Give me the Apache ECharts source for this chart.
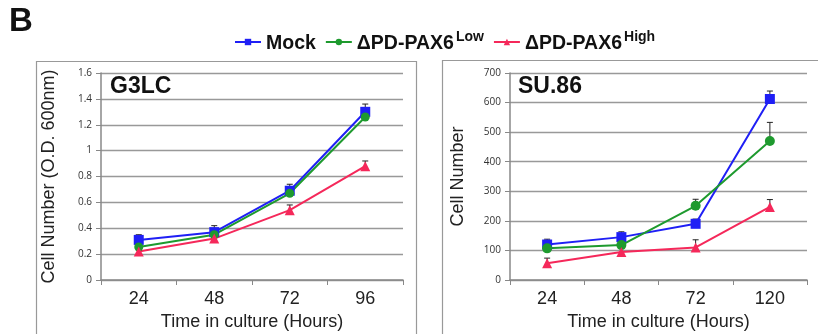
<!DOCTYPE html>
<html><head><meta charset="utf-8">
<script src="https://cdn.jsdelivr.net/npm/echarts@6/dist/echarts.min.js"></script>
<style>html,body{margin:0;padding:0;background:#fff}#c{width:818px;height:334px}</style>
</head><body><div id="c"></div>
<script>
// G3LC panel
const catsA = ['24', '48', '72', '96'];
const mockA = [0.31, 0.37, 0.69, 1.30];
const lowA = [0.255, 0.35, 0.67, 1.26];
const highA = [0.22, 0.32, 0.54, 0.88];
const mockErrA = [0.04, 0.05, 0.05, 0.06];
const lowErrA = [0, 0, 0, 0];
const highErrA = [0, 0, 0.04, 0.04];
// SU.86 panel
const catsB = ['24', '48', '72', '120'];
const mockB = [120, 145, 190, 612];
const lowB = [107, 118, 251, 470];
const highB = [57, 95, 110, 247];
const mockErrB = [18, 18, 16, 27];
const lowErrB = [0, 0, 22, 63];
const highErrB = [17, 0, 26, 25];

const FONT = '"Liberation Sans", Arial, Helvetica, sans-serif';
const C_MOCK = '#1f1ff5', C_LOW = '#1e9a2e', C_HIGH = '#f5285a';
const N_MOCK = 'Mock', N_LOW = 'ΔPD-PAX6 Low', N_HIGH = 'ΔPD-PAX6 High';

function lineSeries(name, data, color, symbol, size, idx) {
  return {
    type: 'line', name, data, xAxisIndex: idx, yAxisIndex: idx,
    symbol, symbolSize: size, lineStyle: { color, width: 2 },
    itemStyle: { color }, z: 3, animation: false
  };
}
function errSeries(vals, errs, idx) {
  const d = vals.map((v, i) => [i, v, errs[i]]);
  return {
    type: 'custom', xAxisIndex: idx, yAxisIndex: idx, data: d, z: 2, animation: false,
    silent: true,
    renderItem(params, api) {
      const e = api.value(2);
      if (!e) return null;
      const p0 = api.coord([api.value(0), api.value(1)]);
      const p1 = api.coord([api.value(0), api.value(1) + e]);
      const st = { stroke: '#222', lineWidth: 1 };
      return {
        type: 'group', children: [
          { type: 'line', shape: { x1: p0[0], y1: p0[1], x2: p1[0], y2: p1[1] }, style: st },
          { type: 'line', shape: { x1: p1[0] - 3, y1: p1[1], x2: p1[0] + 3, y2: p1[1] }, style: st }
        ]
      };
    }
  };
}
function xAx(cats, idx) {
  return {
    type: 'category', data: cats, gridIndex: idx, boundaryGap: true,
    name: 'Time in culture (Hours)', nameLocation: 'middle', nameGap: 33,
    nameTextStyle: { fontFamily: FONT, fontSize: 18, color: '#222' },
    axisLine: { lineStyle: { color: '#888', width: 1.5 } },
    axisTick: { show: true, alignWithLabel: false, length: 5, lineStyle: { color: '#888' } },
    axisLabel: { fontFamily: FONT, fontSize: 18, color: '#222', margin: 10 }
  };
}
function yAx(max, interval, name, idx, fmt) {
  return {
    type: 'value', gridIndex: idx, min: 0, max, interval,
    name, nameLocation: 'middle', nameGap: 43,
    nameTextStyle: { fontFamily: FONT, fontSize: 18, color: '#222' },
    axisLine: { show: true, lineStyle: { color: '#888', width: 1.5 } },
    axisTick: { show: true, length: 5, lineStyle: { color: '#888' } },
    axisLabel: { fontFamily: '"Open Sans", "DejaVu Sans", sans-serif', fontSize: 10, color: '#333', margin: 9, formatter: fmt },
    splitLine: { lineStyle: { color: '#999', width: 1.3 } }
  };
}

const chart = echarts.init(document.getElementById('c'), null, { renderer: 'canvas' });
chart.setOption({
  backgroundColor: '#fff',
  animation: false,
  grid: [
    { left: 101, top: 73, width: 302, height: 207, containLabel: false, outerBoundsMode: 'none' },
    { left: 510, top: 73, width: 297, height: 207, containLabel: false, outerBoundsMode: 'none' }
  ],
  legend: {
    data: [N_MOCK, N_LOW, N_HIGH], top: 25, left: 229, itemGap: 9, itemWidth: 26, itemHeight: 8,
    selectedMode: false,
    formatter(n) {
      if (n === N_MOCK) return '{b|Mock}';
      if (n === N_LOW) return '{b|ΔPD-PAX6}{s|Low}';
      return '{b|ΔPD-PAX6}{s|High}';
    },
    textStyle: {
      rich: {
        b: { fontFamily: FONT, fontSize: 19.5, fontWeight: 'bold', color: '#111', lineHeight: 24, verticalAlign: 'bottom' },
        s: { fontFamily: FONT, fontSize: 14, fontWeight: 'bold', color: '#111', lineHeight: 24, verticalAlign: 'top', padding: [0, 0, 12, 2] }
      }
    }
  },
  graphic: [
    { type: 'text', left: 9, top: 5, style: { text: 'B', font: 'bold 33px ' + FONT, fill: '#111' } },
    { type: 'rect', shape: { x: 36.5, y: 61.5, width: 380, height: 290 }, style: { fill: 'none', stroke: '#999', lineWidth: 1.2 }, z: -1 },
    { type: 'rect', shape: { x: 442.5, y: 60.5, width: 390, height: 290 }, style: { fill: 'none', stroke: '#999', lineWidth: 1.2 }, z: -1 },
    { type: 'text', left: 110, top: 75, style: { text: 'G3LC', font: 'bold 23px ' + FONT, fill: '#111' }, z: 10 },
    { type: 'text', left: 518, top: 75, style: { text: 'SU.86', font: 'bold 23px ' + FONT, fill: '#111' }, z: 10 }
  ],
  xAxis: [xAx(catsA, 0), xAx(catsB, 1)],
  yAxis: [
    yAx(1.6, 0.2, 'Cell Number (O.D. 600nm)', 0, v => Number(v.toFixed(1)).toString()),
    yAx(700, 100, 'Cell Number', 1)
  ],
  series: [
    errSeries(mockA, mockErrA, 0), errSeries(lowA, lowErrA, 0), errSeries(highA, highErrA, 0),
    errSeries(mockB, mockErrB, 1), errSeries(lowB, lowErrB, 1), errSeries(highB, highErrB, 1),
    lineSeries(N_MOCK, mockA, C_MOCK, 'rect', 10, 0),
    lineSeries(N_LOW, lowA, C_LOW, 'circle', 9, 0),
    lineSeries(N_HIGH, highA, C_HIGH, 'triangle', 10, 0),
    lineSeries(N_MOCK, mockB, C_MOCK, 'rect', 10, 1),
    lineSeries(N_LOW, lowB, C_LOW, 'circle', 10, 1),
    lineSeries(N_HIGH, highB, C_HIGH, 'triangle', 10, 1)
  ]
});
</script></body></html>
